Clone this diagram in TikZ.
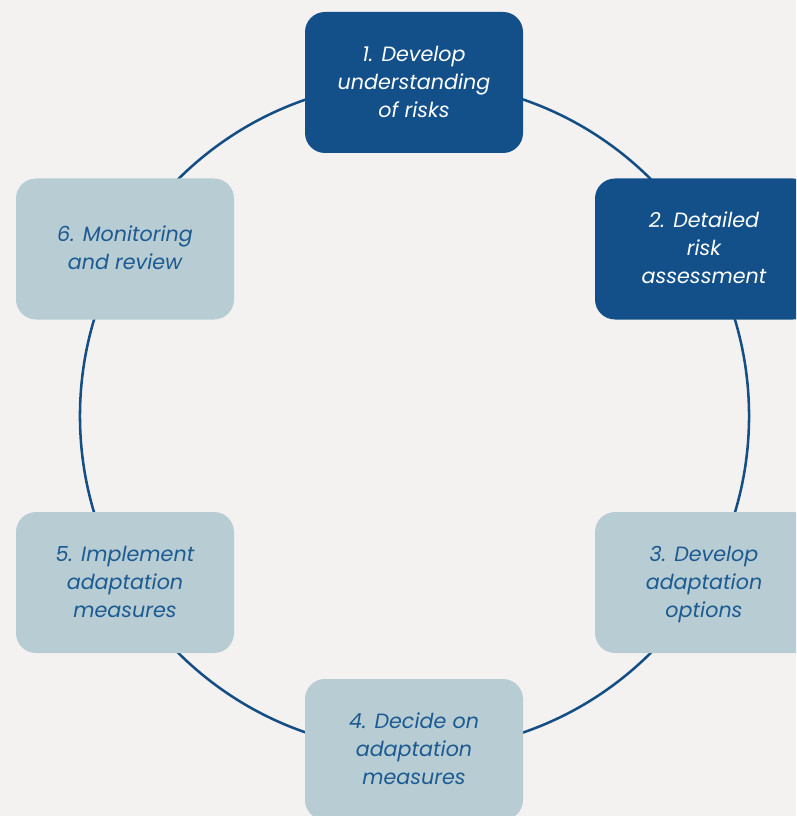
\documentclass[tikz,border=0pt]{standalone}
\usepackage{fontspec}
\setmainfont{Poppins}
\definecolor{bgpaper}{HTML}{F4F2F0}
\definecolor{stepdark}{HTML}{13508A}
\definecolor{steplight}{HTML}{B8CDD3}
\definecolor{ringblue}{HTML}{134F85}
\definecolor{labelblue}{HTML}{1C5A92}
% fixed height for the first line and fixed depth for the last line of each label
\newcommand{\firstprop}{\vphantom{Xgp}\raisebox{3.8pt}{\vphantom{X}}}
\newcommand{\lastprop}{\vphantom{Xgp}}
\begin{document}
\begin{tikzpicture}[x=0.75pt,y=-0.75pt,
  stepbox/.style={rectangle,rounded corners=15pt,minimum width=163.5pt,
    minimum height=105.75pt,inner sep=0pt,align=center,
    font=\fontsize{15.5}{21}\selectfont\itshape},
  darkstep/.style={stepbox,fill=stepdark,text=white},
  lightstep/.style={stepbox,fill=steplight,text=labelblue}]
  % page and clipping
  \fill[bgpaper] (0,0) rectangle (796,816);
  \useasboundingbox (0,0) rectangle (796,816);
  \clip (0,0) rectangle (796,816);
  % the cycle ring
  \draw[ringblue,line width=1.9pt] (414.5,416) circle[radius=250.9pt];
  % the six steps
  \node[darkstep]  (s1) at (414,82.5)  {\firstprop 1. Develop\\understanding\\of risks\lastprop};
  \node[darkstep]  (s2) at (704,249)   {\firstprop 2. Detailed\\risk\\assessment\lastprop};
  \node[lightstep] (s3) at (704,582.5) {\firstprop 3. Develop\\adaptation\\options\lastprop};
  \node[lightstep] (s4) at (414,749.5) {\firstprop 4. Decide on\\adaptation\\measures\lastprop};
  \node[lightstep] (s5) at (125,582.5) {\firstprop 5. Implement\\adaptation\\measures\lastprop};
  \node[lightstep] (s6) at (125,249)   {\firstprop 6. Monitoring\\and review\lastprop};
\end{tikzpicture}
\end{document}
